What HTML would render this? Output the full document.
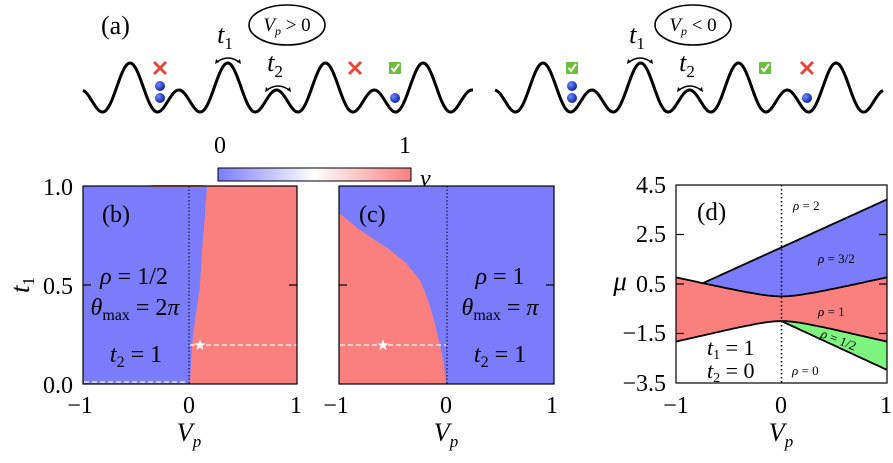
<!DOCTYPE html>
<html><head><meta charset="utf-8"><style>
body{margin:0;background:#fff;}
svg{display:block;font-family:"Liberation Serif","DejaVu Serif",serif;}
.t{font-size:24px;}
.i{font-style:italic;}
</style></head><body>
<svg id="s" width="893" height="463" viewBox="0 0 893 463" xmlns="http://www.w3.org/2000/svg">
<defs>
<linearGradient id="cb" x1="0" x2="1" y1="0" y2="0">
<stop offset="0" stop-color="#7b7cfb"/><stop offset="0.5" stop-color="#ffffff"/><stop offset="1" stop-color="#fa7f7f"/>
</linearGradient>
<radialGradient id="ball" cx="0.35" cy="0.35" r="0.7"><stop offset="0" stop-color="#6f8cff"/><stop offset="1" stop-color="#0a1fa0"/></radialGradient>
</defs>
<g id="waves" fill="none" stroke="#000" stroke-width="3"></g>

<text x="101" y="34" style="font-size:26px">(a)</text>
<ellipse cx="287" cy="25" rx="38" ry="20" fill="none" stroke="#000" stroke-width="1.6"/>
<text x="287" y="31" text-anchor="middle" style="font-size:19px"><tspan class="i">V</tspan><tspan class="i" font-size="12" dy="4">p</tspan><tspan dy="-4"> &gt; 0</tspan></text>
<ellipse cx="693" cy="25" rx="38" ry="20" fill="none" stroke="#000" stroke-width="1.6"/>
<text x="693" y="31" text-anchor="middle" style="font-size:19px"><tspan class="i">V</tspan><tspan class="i" font-size="12" dy="4">p</tspan><tspan dy="-4"> &lt; 0</tspan></text>
<g id="alab" font-size="26"></g>

<rect x="218" y="168" width="193" height="13" fill="url(#cb)" stroke="#000" stroke-width="1"/>
<text x="220" y="153" text-anchor="middle" class="t">0</text>
<text x="405" y="153" text-anchor="middle" class="t">1</text>
<text x="420" y="186" class="t i">ν</text>

<!-- panel b -->
<rect x="83" y="186" width="214" height="198" fill="#7b7cfb"/>
<path d="M190 384 L191 365 L192 345 L195 320 L198 300 L200 285 L202 250 L205 215 L207 186 L297 186 L297 384 Z" fill="#fa7f7f"/>
<rect x="151" y="185" width="52" height="2" fill="#fa7f7f"/>
<line x1="189" y1="186" x2="189" y2="384" stroke="#000" stroke-width="1" stroke-dasharray="1.5,2"/>
<line x1="190" y1="345" x2="297" y2="345" stroke="#fff" stroke-width="1.2" stroke-dasharray="5,3"/>
<line x1="84" y1="382" x2="188" y2="382" stroke="#fff" stroke-width="1.2" stroke-dasharray="5,3"/>
<text x="200" y="350" text-anchor="middle" fill="#fff" font-size="15">★</text>
<rect x="83" y="186" width="214" height="198" fill="none" stroke="#000" stroke-width="1.2"/>
<text x="102" y="222" class="t" font-size="25">(b)</text>
<text x="134" y="284" text-anchor="middle" class="t"><tspan class="i">ρ</tspan> = 1/2</text>
<text x="135" y="315" text-anchor="middle" class="t"><tspan class="i">θ</tspan><tspan font-size="16" dy="5">max</tspan><tspan dy="-5"> = 2</tspan><tspan class="i">π</tspan></text>
<text x="136" y="362" text-anchor="middle" class="t"><tspan class="i">t</tspan><tspan font-size="16" dy="5">2</tspan><tspan dy="-5"> = 1</tspan></text>

<!-- panel c -->
<rect x="339" y="186" width="215" height="198" fill="#7b7cfb"/>
<path d="M339 213 L360 230 L375 240 L390 250 L405 262 L420 280 L428 300 L434 320 L440 345 L444 365 L446 384 L339 384 Z" fill="#fa7f7f"/>
<line x1="447" y1="186" x2="447" y2="384" stroke="#000" stroke-width="1" stroke-dasharray="1.5,2"/>
<line x1="340" y1="345" x2="446" y2="345" stroke="#fff" stroke-width="1.2" stroke-dasharray="5,3"/>
<text x="383" y="350" text-anchor="middle" fill="#fff" font-size="15">★</text>
<rect x="339" y="186" width="215" height="198" fill="none" stroke="#000" stroke-width="1.2"/>
<text x="359" y="222" class="t" font-size="25">(c)</text>
<text x="500" y="284" text-anchor="middle" class="t"><tspan class="i">ρ</tspan> = 1</text>
<text x="500" y="315" text-anchor="middle" class="t"><tspan class="i">θ</tspan><tspan font-size="16" dy="5">max</tspan><tspan dy="-5"> = </tspan><tspan class="i">π</tspan></text>
<text x="500" y="362" text-anchor="middle" class="t"><tspan class="i">t</tspan><tspan font-size="16" dy="5">2</tspan><tspan dy="-5"> = 1</tspan></text>

<g stroke="#000" stroke-width="1.2">
<line x1="83" y1="285" x2="91" y2="285"/><line x1="289" y1="285" x2="297" y2="285"/>
<line x1="339" y1="285" x2="347" y2="285"/><line x1="546" y1="285" x2="554" y2="285"/>
</g>
<g class="t" text-anchor="end">
<text x="73" y="195">1.0</text><text x="73" y="294">0.5</text><text x="73" y="393">0.0</text>
</g>
<text transform="translate(29,285) rotate(-90)" text-anchor="middle" class="i" font-size="27">t<tspan font-size="17" dy="5" font-style="normal">1</tspan></text>
<g class="t" text-anchor="middle">
<text x="80" y="413">−1</text><text x="189" y="413">0</text><text x="296" y="413">1</text>
<text x="336" y="413">−1</text><text x="446" y="413">0</text><text x="552" y="413">1</text>
</g>
<text x="189" y="441" text-anchor="middle" class="i" font-size="26">V<tspan font-size="17" dy="6">p</tspan></text>
<text x="446" y="441" text-anchor="middle" class="i" font-size="26">V<tspan font-size="17" dy="6">p</tspan></text>

<!-- panel d -->
<g id="pd"></g>
<rect x="676" y="185" width="211" height="198" fill="none" stroke="#000" stroke-width="1.2"/>
<line x1="781.5" y1="185" x2="781.5" y2="383" stroke="#000" stroke-width="1.5" stroke-dasharray="1.5,2.5"/>
<g stroke="#000" stroke-width="1.2">
<line x1="676" y1="234.5" x2="684" y2="234.5"/><line x1="879" y1="234.5" x2="887" y2="234.5"/>
<line x1="676" y1="284" x2="684" y2="284"/><line x1="879" y1="284" x2="887" y2="284"/>
<line x1="676" y1="333.5" x2="684" y2="333.5"/><line x1="879" y1="333.5" x2="887" y2="333.5"/>
</g>
<g class="t" text-anchor="end">
<text x="666" y="193">4.5</text><text x="666" y="242">2.5</text><text x="666" y="292">0.5</text>
<text x="666" y="341">−1.5</text><text x="666" y="391">−3.5</text>
</g>
<text x="620" y="290" text-anchor="middle" class="i" font-size="27">μ</text>
<g class="t" text-anchor="middle">
<text x="676" y="413">−1</text><text x="781" y="413">0</text><text x="886" y="413">1</text>
</g>
<text x="781" y="441" text-anchor="middle" class="i" font-size="26">V<tspan font-size="17" dy="6">p</tspan></text>
<text x="697" y="220" font-size="25">(d)</text>
<g font-size="13">
<text x="793" y="210"><tspan class="i">ρ</tspan> = 2</text>
<text x="818" y="263"><tspan class="i">ρ</tspan> = 3/2</text>
<text x="818" y="316"><tspan class="i">ρ</tspan> = 1</text>
<text x="792" y="375"><tspan class="i">ρ</tspan> = 0</text>
<text transform="translate(820,337) rotate(22)"><tspan class="i">ρ</tspan> = 1/2</text>
</g>
<text x="707" y="355" font-size="22"><tspan class="i">t</tspan><tspan font-size="14" dy="4">1</tspan><tspan dy="-4"> = 1</tspan></text>
<text x="707" y="378" font-size="22"><tspan class="i">t</tspan><tspan font-size="14" dy="4">2</tspan><tspan dy="-4"> = 0</tspan></text>
</svg>
<script>
(function(){
var NS="http://www.w3.org/2000/svg";
function el(p,n,a,t){var e=document.createElementNS(NS,n);for(var k in a)e.setAttribute(k,a[k]);if(t)e.textContent=t;p.appendChild(e);return e;}
var W=document.getElementById('waves');
var a=13.5,b=17.1,yc=93.6,P=97.7;
function wave(x0,xs,xe){var d="";for(var x=xs;x<=xe;x+=1){var th=2*Math.PI*(x-x0)/P;var y=yc-(a*Math.cos(th)+b*Math.cos(2*th));d+=(d?"L":"M")+x.toFixed(1)+" "+y.toFixed(1);}el(W,'path',{d:d});}
wave(130,83,473);wave(543,495,883);
var L=document.getElementById('alab');
function ball(x,y){el(L,'circle',{cx:x,cy:y,r:5,fill:'url(#ball)'});}
function cross(x,y){el(L,'path',{d:'M'+(x-6)+' '+(y-6)+'L'+(x+6)+' '+(y+6)+'M'+(x+6)+' '+(y-6)+'L'+(x-6)+' '+(y+6),stroke:'#e8483c','stroke-width':3,fill:'none'});}
function check(x,y){el(L,'rect',{x:x-6,y:y-6,width:12,height:12,fill:'#6bbf3a',rx:1});el(L,'path',{d:'M'+(x-3.5)+' '+y+'L'+(x-1)+' '+(y+3)+'L'+(x+4)+' '+(y-4),stroke:'#fff','stroke-width':2,fill:'none'});}
function tl(x,y,n){var t=el(L,'text',{x:x-3,y:y,'text-anchor':'middle','font-style':'italic'},'t');el(t,'tspan',{'font-size':17,dy:6,'font-style':'normal'},n);
var by=y+16;el(L,'path',{d:'M'+(x-11)+' '+(by+3)+'Q'+x+' '+(by-5)+' '+(x+11)+' '+(by+3),stroke:'#000','stroke-width':1.5,fill:'none'});
el(L,'path',{d:'M'+(x-13)+' '+(by+5)+'l1 -5 l3 3z M'+(x+13)+' '+(by+5)+'l-1 -5 l-3 3z',fill:'#000'});}
cross(160,68);ball(160,86);ball(160,98);cross(355,68);check(395,68);ball(395,98);
tl(228,43,'1');tl(278,71,'2');
check(572,68);ball(572,86);ball(572,98);check(765,68);cross(807,68);ball(807,98);
tl(640,43,'1');tl(690,71,'2');
var D=document.getElementById('pd');
function X(v){return 676+(v+1)*105.5;}function Y(m){return 185+(4.5-m)*24.75;}
function up(v){return -0.2+Math.sqrt(0.9*v*v+0.04);}function lo(v){return -0.8-Math.sqrt(1.02*v*v+0.04);}
function pts(f,a0,a1){var s=[];for(var i=0;i<=60;i++){var v=a0+(a1-a0)*i/60;s.push(X(v).toFixed(1)+" "+Y(f(v)).toFixed(1));}return s;}
function bl(v){return 1.98+1.94*v;}function gl(v){return -1-1.97*v;}
var red=pts(up,-1,1).concat(pts(lo,-1,1).reverse());
el(D,'path',{d:'M'+red.join('L')+'Z',fill:'#fa7f7f'});
var blue=pts(bl,-0.75,1).concat(pts(up,-0.75,1).reverse());
el(D,'path',{d:'M'+blue.join('L')+'Z',fill:'#7b7cfb'});
var gr=pts(lo,0,1).concat(pts(gl,0,1).reverse());
el(D,'path',{d:'M'+gr.join('L')+'Z',fill:'#7ef57e'});
[pts(up,-1,1),pts(lo,-1,1),pts(bl,-0.75,1),pts(gl,0,1)].forEach(function(p){el(D,'path',{d:'M'+p.join('L'),fill:'none',stroke:'#000','stroke-width':1.8});});
})();
</script>
</body></html>
